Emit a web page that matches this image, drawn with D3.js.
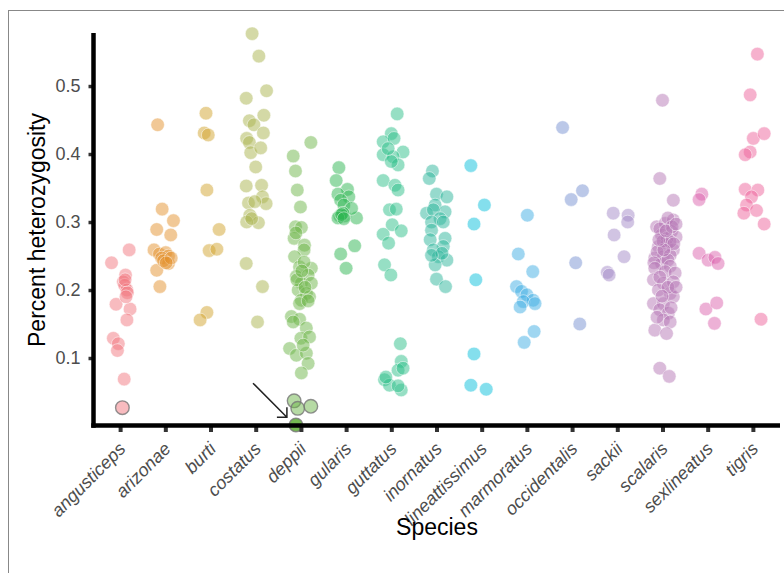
<!DOCTYPE html>
<html>
<head>
<meta charset="utf-8">
<script src="https://cdn.jsdelivr.net/npm/d3@7"></script>
<style>
  body { margin: 0; background: #fff; }
  text { font-family: "Liberation Sans", Arial, sans-serif; }
</style>
</head>
<body>
<div id="app"></div>
<script>
const container = document.querySelector('#app');

const width = 784;
const height = 573;

// species on the x axis
const species = ["angusticeps", "arizonae", "burti", "costatus", "deppii", "gularis",
  "guttatus", "inornatus", "lineattissimus", "marmoratus", "occidentalis", "sackii",
  "scalaris", "sexlineatus", "tigris"];

const colors = ["#f27780", "#e4922e", "#d2a42e", "#a9b34e", "#6eb649", "#2eb652",
  "#2ebf89", "#2eb69b", "#09bfdb", "#40ade4", "#7792d2", "#a489c8",
  "#b677b6", "#db64ad", "#ed649b"];

const yTicks = [0.1, 0.2, 0.3, 0.4, 0.5];

// each point: [jitter (fraction of category step), heterozygosity, flag]
// flag 1 = grey outlined sample, flag 2 = highlighted sample
const angusticeps = [[0.20,0.259],[-0.19,0.240],[0.12,0.222],[0.07,0.212],[0.10,0.207],
  [0.15,0.200],[0.16,0.196],[-0.09,0.179],[0.22,0.172],[0.15,0.156],[-0.15,0.129],
  [-0.04,0.121],[-0.06,0.111],[0.09,0.069],[0.11,0.215],[0.13,0.190],[0.05,0.027,1]];
const arizonae = [[-0.17,0.443],[-0.07,0.319],[0.18,0.302],[-0.19,0.289],[0.12,0.281],
  [-0.25,0.259],[-0.13,0.253],[0.01,0.255],[0.07,0.250],[-0.08,0.247],[0.07,0.239],
  [-0.19,0.229],[-0.12,0.205],[-0.04,0.243],[0.13,0.247],[0.02,0.240]];
const burti = [[-0.10,0.460],[-0.14,0.431],[-0.05,0.428],[-0.08,0.347],[0.19,0.289],
  [-0.03,0.258],[0.14,0.260],[-0.08,0.167],[-0.23,0.156]];
const costatus = [[-0.08,0.577],[0.07,0.544],[0.24,0.493],[-0.21,0.482],[0.18,0.457],
  [-0.14,0.449],[-0.04,0.443],[0.17,0.431],[-0.20,0.423],[-0.14,0.417],[-0.11,0.402],
  [0.11,0.409],[0.00,0.381],[-0.21,0.353],[0.13,0.354],[-0.16,0.328],[0.15,0.337],
  [0.23,0.327],[-0.02,0.330],[-0.13,0.310],[0.06,0.299],[-0.20,0.300],[-0.09,0.305],
  [-0.21,0.239],[0.15,0.205],[0.04,0.153]];
const deppii = [[0.22,0.417],[-0.17,0.397],[-0.12,0.375],[-0.08,0.347],[-0.01,0.322],
  [-0.12,0.293],[0.01,0.292],[-0.15,0.276],[0.08,0.266],[0.07,0.259],[-0.14,0.249],
  [-0.03,0.234],[0.23,0.232],[-0.10,0.220],[0.16,0.222],[0.01,0.210],[0.23,0.210],
  [-0.06,0.200],[0.12,0.195],[0.01,0.185],[0.19,0.190],[-0.03,0.180],[-0.21,0.161],
  [-0.03,0.157],[0.12,0.144],[0.00,0.129],[0.19,0.131],[-0.25,0.114],[-0.10,0.104],
  [0.12,0.107],[0.16,0.092],[0.01,0.078],[0.07,0.241],[-0.09,0.215],[0.09,0.204],
  [0.02,0.228],[0.16,0.184],[-0.11,0.284],[-0.17,0.153],[0.05,0.119],
  [-0.15,0.037,1],[-0.07,0.026,1],[0.22,0.029,1],[-0.11,0.0015,2]];
const gularis = [[-0.16,0.380],[-0.22,0.361],[0.03,0.348],[-0.18,0.341],[0.06,0.337],
  [-0.12,0.332],[-0.05,0.325],[-0.14,0.309],[-0.03,0.309],[0.23,0.306],[0.12,0.320],
  [0.19,0.265],[-0.12,0.253],[0.00,0.232],[-0.07,0.313],[-0.18,0.306],[-0.10,0.311],
  [-0.05,0.305]];
const guttatus = [[0.13,0.459],[0.00,0.430],[-0.18,0.418],[0.06,0.423],[0.26,0.403],
  [-0.18,0.399],[0.04,0.396],[0.15,0.384],[0.00,0.389],[-0.07,0.408],[-0.18,0.361],
  [0.08,0.354],[0.15,0.347],[-0.04,0.318],[0.11,0.319],[0.02,0.296],[0.22,0.287],
  [-0.18,0.282],[-0.06,0.269],[-0.15,0.237],[-0.01,0.222],[0.20,0.121],[0.22,0.095],
  [0.15,0.082],[0.26,0.085],[-0.15,0.068],[-0.04,0.060],[0.22,0.053],[-0.12,0.072],
  [0.15,0.059]];
const inornatus = [[-0.09,0.375],[-0.16,0.364],[0.00,0.341],[0.23,0.337],[-0.03,0.325],
  [-0.22,0.313],[0.19,0.315],[-0.07,0.318],[0.08,0.305],[-0.11,0.300],[0.15,0.300],
  [-0.11,0.288],[-0.14,0.274],[0.19,0.276],[0.15,0.264],[-0.07,0.259],[0.04,0.249],
  [0.23,0.244],[-0.03,0.237],[0.12,0.254],[-0.11,0.251],[0.00,0.216],[0.20,0.205]];
const lineattissimus = [[-0.24,0.383],[0.06,0.325],[-0.17,0.297],[-0.13,0.215],
  [-0.17,0.106],[-0.24,0.060],[0.10,0.054]];
const marmoratus = [[0.01,0.310],[-0.19,0.253],[0.13,0.227],[-0.23,0.205],[-0.12,0.198],
  [0.00,0.193],[0.14,0.185],[-0.08,0.183],[0.18,0.180],[-0.15,0.175],[0.16,0.139],
  [-0.06,0.123]];
const occidentalis = [[-0.21,0.439],[0.23,0.346],[-0.02,0.333],[0.08,0.240],[0.17,0.150]];
const sackii = [[-0.09,0.313],[0.24,0.310],[0.23,0.300],[-0.07,0.281],[0.15,0.249],
  [-0.22,0.226],[-0.18,0.222]];
const scalaris = [[0.00,0.479],[-0.06,0.364],[0.24,0.332],
  [-0.13,0.293],[0.06,0.298],[0.24,0.303],[0.12,0.306],[-0.02,0.281],[0.20,0.286],
  [0.30,0.278],[-0.06,0.290],[0.10,0.276],[-0.09,0.264],[0.09,0.266],[0.24,0.259],
  [0.01,0.272],[0.17,0.271],[-0.17,0.247],[0.02,0.249],[0.17,0.251],[-0.02,0.239],
  [-0.12,0.256],[0.12,0.244],[0.25,0.268],[0.03,0.259],[-0.08,0.274],[0.21,0.293],
  [0.08,0.287],[-0.19,0.240],[0.17,0.235],[0.30,0.297],
  [-0.17,0.232],[0.06,0.227],[0.28,0.225],[-0.20,0.215],[0.02,0.210],[0.24,0.212],
  [-0.09,0.200],[0.17,0.195],[-0.20,0.180],[0.02,0.180],[0.24,0.190],[-0.06,0.171],
  [0.13,0.166],[0.02,0.156],[0.17,0.153],[-0.17,0.141],[0.09,0.136],[-0.06,0.219],
  [0.12,0.204],[-0.01,0.191],[0.30,0.204],[-0.12,0.160],[0.19,0.174],
  [-0.06,0.085],[0.15,0.073]];
const sexlineatus = [[-0.13,0.341],[-0.19,0.333],[-0.19,0.254],[0.01,0.244],[0.16,0.248],
  [0.23,0.239],[-0.04,0.172],[0.20,0.181],[0.15,0.151]];
const tigris = [[0.10,0.547],[-0.06,0.487],[0.01,0.423],[0.25,0.430],[-0.06,0.403],
  [-0.17,0.399],[-0.17,0.348],[0.11,0.347],[-0.03,0.337],[-0.14,0.325],[-0.20,0.313],
  [0.08,0.317],[0.25,0.297],[0.18,0.157]];

const groups = [angusticeps, arizonae, burti, costatus, deppii, gularis, guttatus,
  inornatus, lineattissimus, marmoratus, occidentalis, sackii, scalaris, sexlineatus, tigris];

// arrow pointing at the highlighted deppii sample: [jitter, value]
const arrowFrom = [-1.06, 0.063];
const arrowTo = [-0.31, 0.013];

// flatten into one table
const points = [];
groups.forEach((g, i) => {
  g.forEach(p => points.push({ species: species[i], color: colors[i], j: p[0], v: p[1], flag: p[2] || 0 }));
});

const x = d3.scalePoint()
    .domain(species)
    .range([93, 780])
    .padding(0.6);

const y = d3.scaleLinear()
    .domain([0, 0.578])
    .range([426, 33]);

const px = (s, j) => x(s) + j * x.step();

const svg = d3.create("svg")
    .attr("width", width)
    .attr("height", height);

svg.append("rect")
    .attr("x", 8.5).attr("y", 10.5)
    .attr("width", 780).attr("height", 580)
    .attr("fill", "#fff")
    .attr("stroke", "#888")
    .attr("stroke-width", 1);

// points
svg.append("g")
  .selectAll("circle")
  .data(points)
  .join("circle")
    .attr("cx", d => px(d.species, d.j))
    .attr("cy", d => y(d.v))
    .attr("r", 6.8)
    .attr("fill", d => d.color)
    .attr("fill-opacity", d => d.flag === 2 ? 0.95 : 0.5)
    .attr("stroke", d => d.flag ? "#777" : "#fff")
    .attr("stroke-opacity", d => d.flag ? 0.8 : 0.55)
    .attr("stroke-width", d => d.flag ? 1.4 : 0.9);

// arrow
const ax0 = px("deppii", arrowFrom[0]), ay0 = y(arrowFrom[1]);
const ax1 = px("deppii", arrowTo[0]), ay1 = y(arrowTo[1]);
const ang = Math.atan2(ay1 - ay0, ax1 - ax0);
const head = 10;
svg.append("path")
    .attr("d", `M${ax0},${ay0}L${ax1},${ay1}` +
      `M${ax1 - head * Math.cos(ang - Math.PI / 4)},${ay1 - head * Math.sin(ang - Math.PI / 4)}L${ax1},${ay1}` +
      `L${ax1 - head * Math.cos(ang + Math.PI / 4)},${ay1 - head * Math.sin(ang + Math.PI / 4)}`)
    .attr("fill", "none")
    .attr("stroke", "#222")
    .attr("stroke-width", 1.5);

// y axis
const yAxis = svg.append("g")
    .attr("transform", "translate(93.5,0)")
    .call(d3.axisLeft(y).tickValues(yTicks).tickSize(5).tickPadding(8).tickFormat(d3.format(".1f")));
yAxis.select(".domain").remove();
yAxis.selectAll(".tick line").attr("stroke", "#333").attr("stroke-width", 3.5);
yAxis.selectAll(".tick text")
    .attr("fill", "#4d4d4d")
    .style("font-size", "18px");

// x axis
const xAxis = svg.append("g")
    .attr("transform", "translate(0,425.5)")
    .call(d3.axisBottom(x).tickSize(6.5).tickFormat(""));
xAxis.select(".domain").remove();
xAxis.selectAll(".tick line").attr("stroke", "#333").attr("stroke-width", 4);

svg.append("g")
  .selectAll("text")
  .data(species)
  .join("text")
    .attr("transform", d => `translate(${x(d) + 6.5},450) rotate(-45)`)
    .attr("text-anchor", "end")
    .attr("fill", "#4d4d4d")
    .style("font-size", "18px")
    .style("font-style", "italic")
    .text(d => d);

// axis lines
svg.append("line")
    .attr("x1", 93.5).attr("x2", 93.5)
    .attr("y1", 33).attr("y2", 427.7)
    .attr("stroke", "#000").attr("stroke-width", 4.5);
svg.append("line")
    .attr("x1", 91.25).attr("x2", 780)
    .attr("y1", 425.5).attr("y2", 425.5)
    .attr("stroke", "#000").attr("stroke-width", 4.5);

// titles
svg.append("text")
    .attr("transform", "translate(45,230) rotate(-90)")
    .attr("text-anchor", "middle")
    .style("font-size", "23px")
    .text("Percent heterozygosity");

svg.append("text")
    .attr("x", 437).attr("y", 535)
    .attr("text-anchor", "middle")
    .style("font-size", "23px")
    .text("Species");

container.append(svg.node());
</script>
</body>
</html>
